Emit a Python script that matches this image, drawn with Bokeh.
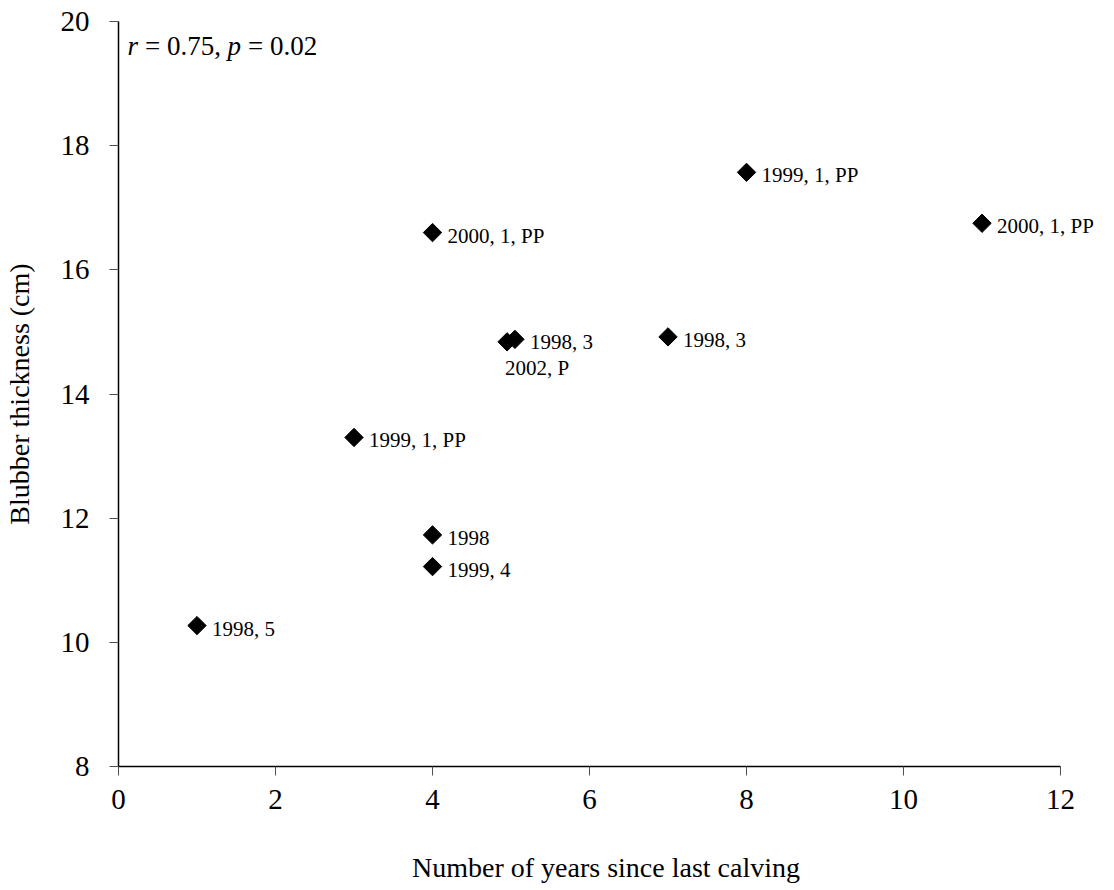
import numpy as np
from bokeh.plotting import figure
from bokeh.models import (ColumnDataSource, Range1d, FixedTicker, LabelSet)
from bokeh.core.properties import value
from bokeh.embed import file_html
from bokeh.resources import INLINE

# ---- data ----
years_since_calving = [1, 3, 4, 4, 4, 4.95, 5.05, 7, 8, 11]
blubber_cm = [10.27, 13.3, 16.6, 11.73, 11.22, 14.84, 14.88, 14.92, 17.57, 16.75]
point_labels = ["1998, 5", "1999, 1, PP", "2000, 1, PP", "1998", "1999, 4",
                "2002, P", "1998, 3", "1998, 3", "1999, 1, PP", "2000, 1, PP"]
below_label_index = 5  # this point's label sits under the marker
x_ticks = [0, 2, 4, 6, 8, 10, 12]
y_ticks = [8, 10, 12, 14, 16, 18, 20]
x_axis_bounds = (0, 12)
y_axis_bounds = (8, 20)
stat_r = "0.75"
stat_p = "0.02"

FONT = "Liberation Serif"

W, H = 1098, 886
LEFT, TOP, RIGHT, BOTTOM = 117, 21, 5, 120
frame_w = W - LEFT - RIGHT
axis_px = 943.0  # pixel length of the 0..12 axis
x_end = x_axis_bounds[1] * frame_w / axis_px

p = figure(width=W, height=H, output_backend="svg", toolbar_location=None,
           x_range=Range1d(0, x_end), y_range=Range1d(*y_axis_bounds),
           min_border_left=LEFT, min_border_right=RIGHT,
           min_border_top=TOP, min_border_bottom=BOTTOM)
p.outline_line_color = None
p.xgrid.visible = False
p.ygrid.visible = False
p.background_fill_color = "white"

p.axis.axis_line_color = "black"
p.axis.axis_line_width = 1.5
p.axis.major_tick_line_color = "#505050"
p.axis.major_tick_in = 0
p.axis.major_tick_out = 9
p.axis.minor_tick_line_color = None
p.axis.major_label_text_font = FONT
p.axis.major_label_text_font_style = "normal"
p.axis.major_label_text_font_size = "29px"
p.axis.major_label_text_color = "black"
p.axis.axis_label_text_font = FONT
p.axis.axis_label_text_font_size = "28px"
p.axis.axis_label_text_font_style = "normal"
p.axis.axis_label_text_color = "black"

p.xaxis.bounds = x_axis_bounds
p.yaxis.bounds = y_axis_bounds
p.xaxis.ticker = FixedTicker(ticks=x_ticks)
p.yaxis.ticker = FixedTicker(ticks=y_ticks)
p.xaxis.axis_label = "Number of years since last calving"
p.yaxis.axis_label = "Blubber thickness (cm)"
p.xaxis.major_label_standoff = 14
p.yaxis.major_label_standoff = 20
p.xaxis.axis_label_standoff = 40
p.yaxis.axis_label_standoff = 23

src = ColumnDataSource(dict(x=years_since_calving, y=blubber_cm, label=point_labels))
p.scatter("x", "y", source=src, marker="square", angle=np.pi / 4, size=13,
          fill_color="black", line_color="black")

idx_right = [i for i in range(len(point_labels)) if i != below_label_index]
src_right = ColumnDataSource(dict(
    x=[years_since_calving[i] for i in idx_right],
    y=[blubber_cm[i] for i in idx_right],
    label=[point_labels[i] for i in idx_right]))
src_below = ColumnDataSource(dict(
    x=[years_since_calving[below_label_index]],
    y=[blubber_cm[below_label_index]],
    label=[point_labels[below_label_index]]))

p.add_layout(LabelSet(x="x", y="y", text="label", source=src_right,
                      x_offset=15, y_offset=-3, text_align="left",
                      text_baseline="middle", text_font=value(FONT),
                      text_font_size="21px", text_color="black"))
p.add_layout(LabelSet(x="x", y="y", text="label", source=src_below,
                      x_offset=-2, y_offset=-26, text_align="left",
                      text_baseline="middle", text_font=value(FONT),
                      text_font_size="21px", text_color="black"))

# correlation annotation with italic r and p
pieces = [("r", "italic", 0), ("= " + stat_r + ",", "normal", 17.5),
          ("p", "italic", 100), ("= " + stat_p, "normal", 120.5)]
for txt, style, off in pieces:
    p.text(x=[0.115], y=[19.6], text=[txt], x_offset=off,
           text_font=value(FONT), text_font_size="27px",
           text_font_style=style, text_baseline="middle",
           text_align="left", text_color="black")

open("out.html", "w").write(file_html(p, INLINE))
